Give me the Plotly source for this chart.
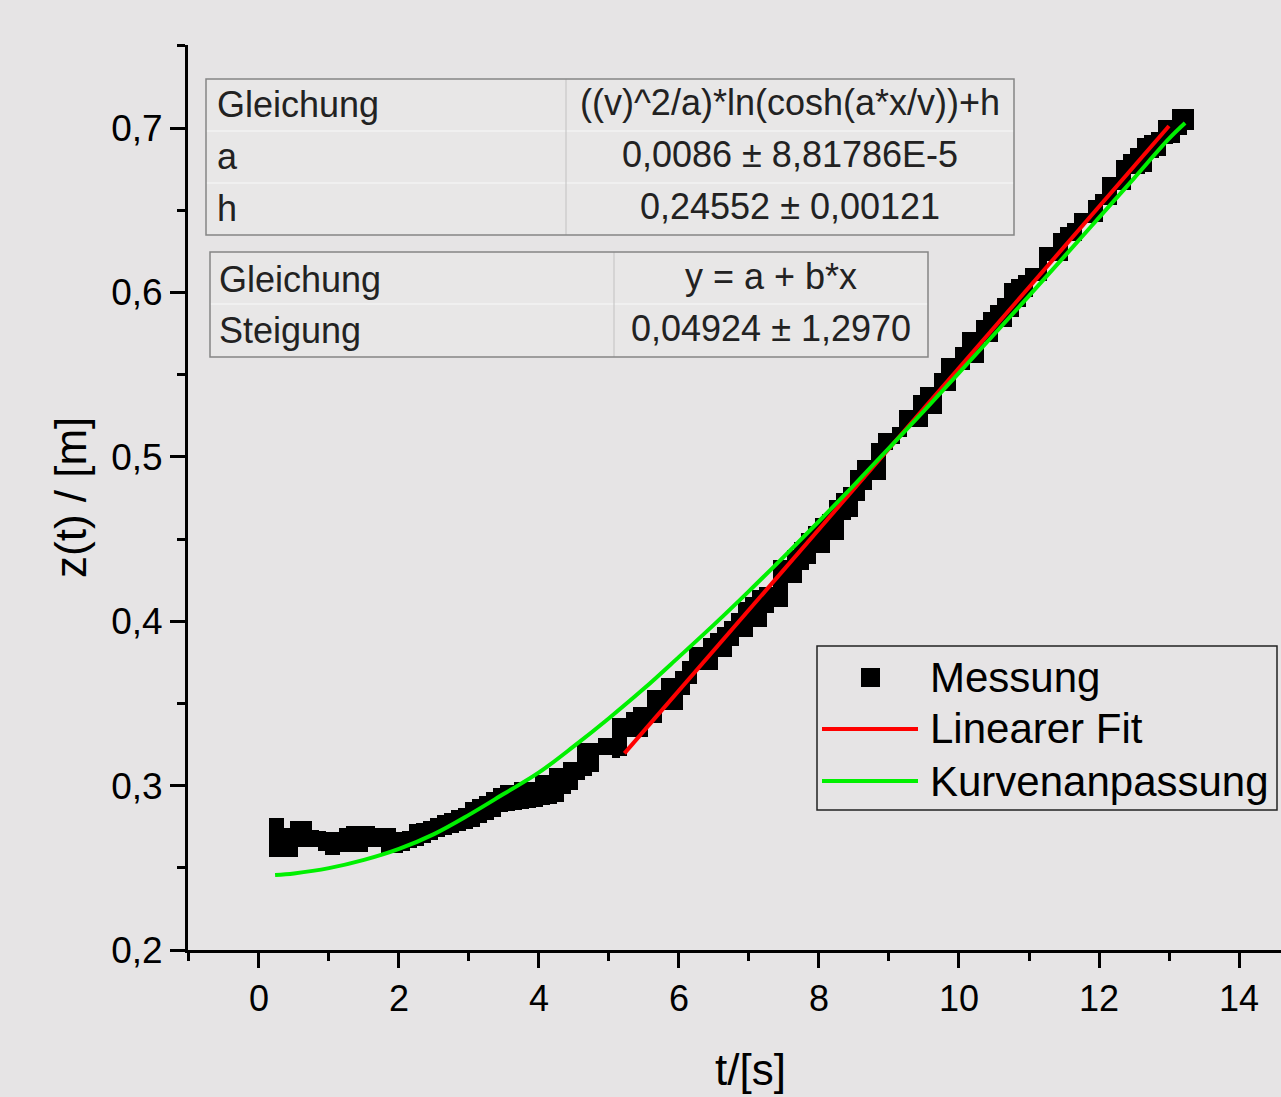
import numpy as np
import plotly.graph_objects as go

# ---------------- data ----------------
# sampling times of the measurement band [s]
t_meas = np.round(np.arange(0.2, 13.31, 0.1), 1)

# upper / lower envelope of the measured points z(t) [m]
z_upper = [
    0.2801, 0.2801, 0.2740, 0.2785, 0.2785, 0.2785, 0.2730, 0.2725, 0.2720, 0.2720,
    0.2740, 0.2756, 0.2756, 0.2756, 0.2756, 0.2740, 0.2740, 0.2740, 0.2720, 0.2725,
    0.2765, 0.2775, 0.2785, 0.2800, 0.2821, 0.2835, 0.2850, 0.2865, 0.2900, 0.2920,
    0.2937, 0.2963, 0.2984, 0.3004, 0.3004, 0.3024, 0.3024, 0.3024, 0.3064, 0.3064,
    0.3105, 0.3105, 0.3145, 0.3145, 0.3257, 0.3257, 0.3257, 0.3287, 0.3287, 0.3409,
    0.3409, 0.3450, 0.3480, 0.3480, 0.3582, 0.3582, 0.3653, 0.3653, 0.3700, 0.3760,
    0.3843, 0.3843, 0.3896, 0.3930, 0.3967, 0.4000, 0.4048, 0.4119, 0.4150, 0.4190,
    0.4210, 0.4210, 0.4372, 0.4372, 0.4433, 0.4480, 0.4535, 0.4580, 0.4626, 0.4650,
    0.4737, 0.4780, 0.4818, 0.4920, 0.4980, 0.4980, 0.5082, 0.5143, 0.5143, 0.5183,
    0.5285, 0.5285, 0.5376, 0.5426, 0.5426, 0.5508, 0.5599, 0.5599, 0.5670, 0.5761,
    0.5761, 0.5832, 0.5880, 0.5923, 0.5964, 0.6057, 0.6080, 0.6106, 0.6146, 0.6146,
    0.6278, 0.6278, 0.6359, 0.6400, 0.6420, 0.6481, 0.6481, 0.6562, 0.6600, 0.6704,
    0.6704, 0.6805, 0.6840, 0.6876, 0.6937, 0.6960, 0.6977, 0.7049, 0.7049, 0.7114,
    0.7114, 0.7114,
]
z_lower = [
    0.2568, 0.2568, 0.2568, 0.2568, 0.2628, 0.2628, 0.2628, 0.2600, 0.2578, 0.2578,
    0.2598, 0.2598, 0.2598, 0.2598, 0.2628, 0.2628, 0.2590, 0.2590, 0.2590, 0.2605,
    0.2620, 0.2635, 0.2650, 0.2669, 0.2685, 0.2700, 0.2712, 0.2725, 0.2738, 0.2750,
    0.2770, 0.2791, 0.2810, 0.2841, 0.2845, 0.2850, 0.2860, 0.2862, 0.2870, 0.2880,
    0.2890, 0.2902, 0.2950, 0.2973, 0.3034, 0.3060, 0.3085, 0.3186, 0.3186, 0.3170,
    0.3180, 0.3296, 0.3296, 0.3296, 0.3380, 0.3380, 0.3460, 0.3460, 0.3460, 0.3550,
    0.3620, 0.3703, 0.3703, 0.3703, 0.3784, 0.3784, 0.3850, 0.3906, 0.3906, 0.3967,
    0.3967, 0.4048, 0.4088, 0.4088, 0.4230, 0.4230, 0.4311, 0.4350, 0.4413, 0.4413,
    0.4494, 0.4494, 0.4616, 0.4636, 0.4730, 0.4800, 0.4860, 0.4860, 0.5040, 0.5080,
    0.5120, 0.5180, 0.5180, 0.5180, 0.5260, 0.5260, 0.5400, 0.5400, 0.5530, 0.5530,
    0.5570, 0.5570, 0.5700, 0.5700, 0.5790, 0.5790, 0.5850, 0.5910, 0.5970, 0.6070,
    0.6070, 0.6190, 0.6190, 0.6190, 0.6310, 0.6310, 0.6420, 0.6420, 0.6430, 0.6530,
    0.6530, 0.6620, 0.6620, 0.6720, 0.6720, 0.6730, 0.6820, 0.6830, 0.6900, 0.6910,
    0.6960, 0.6985,
]

# linear fit (red) end points
t_lin = [5.22, 13.0]
z_lin = [0.3196, 0.7012]

# curve fit (green) points
t_curve = [0.23, 0.5, 1.0, 1.5, 2.0, 2.5, 3.0, 3.5, 4.0, 4.5, 5.0, 5.5, 6.0, 6.5,
           7.0, 7.5, 8.0, 8.5, 9.0, 9.5, 10.0, 10.5, 11.0, 11.5, 12.0, 12.5, 13.0, 13.23]
z_curve = [0.2456, 0.2466, 0.2498, 0.2548, 0.2615, 0.2705, 0.2822, 0.2950, 0.3080, 0.3240,
           0.3410, 0.3590, 0.3783, 0.3979, 0.4183, 0.4393, 0.4608, 0.4828, 0.5053, 0.5280,
           0.5511, 0.5744, 0.5979, 0.6216, 0.6455, 0.6694, 0.6935, 0.7030]

x_ticks = [0, 2, 4, 6, 8, 10, 12, 14]
y_ticks = [0.2, 0.3, 0.4, 0.5, 0.6, 0.7]

x_title = "t/[s]"
y_title = "z(t) / [m]"
legend_names = ["Messung", "Linearer Fit", "Kurvenanpassung"]

table1 = [["Gleichung", "((v)^2/a)*ln(cosh(a*x/v))+h"],
          ["a", "0,0086 ± 8,81786E-5"],
          ["h", "0,24552 ± 0,00121"]]
table2 = [["Gleichung", "y = a + b*x"],
          ["Steigung", "0,04924 ± 1,2970"]]

# ---------------- layout geometry ----------------
W, H = 1281, 1097
L, R, T, B = 188, 0, 45, 147
PW, PH = W - L - R, H - T - B
BG = "#e6e4e5"
FONT = "Liberation Sans, Arial, sans-serif"


def px(x):
    return (x - L) / PW


def py(y):
    return (H - B - y) / PH


fig = go.Figure()

# measurement band
fig.add_trace(go.Bar(
    x=t_meas, base=z_lower, y=np.array(z_upper) - np.array(z_lower),
    width=0.106, marker=dict(color="black", line=dict(width=0)),
    name=legend_names[0], showlegend=False, hoverinfo="skip"))

fig.add_trace(go.Scatter(x=t_lin, y=z_lin, mode="lines",
                         line=dict(color="#ff0000", width=4),
                         name=legend_names[1], showlegend=False))
fig.add_trace(go.Scatter(x=t_curve, y=z_curve, mode="lines",
                         line=dict(color="#00f000", width=4, shape="spline"),
                         name=legend_names[2], showlegend=False))

shapes = []
annotations = []


def box(x0, y0, x1, y1, color, width, fill=None):
    shapes.append(dict(type="rect", xref="paper", yref="paper",
                       x0=px(x0), x1=px(x1), y0=py(y0), y1=py(y1),
                       line=dict(color=color, width=width),
                       fillcolor=fill if fill else "rgba(0,0,0,0)", layer="above"))


def hline(x0, x1, y, color, width):
    shapes.append(dict(type="line", xref="paper", yref="paper",
                       x0=px(x0), x1=px(x1), y0=py(y), y1=py(y),
                       line=dict(color=color, width=width), layer="above"))


def vline(x, y0, y1, color, width):
    shapes.append(dict(type="line", xref="paper", yref="paper",
                       x0=px(x), x1=px(x), y0=py(y0), y1=py(y1),
                       line=dict(color=color, width=width), layer="above"))


def text(x, y, s, size, anchor="left", color="#222222", angle=0):
    annotations.append(dict(xref="paper", yref="paper", x=px(x), y=py(y), text=s,
                            showarrow=False, xanchor=anchor, yanchor="middle",
                            textangle=angle,
                            font=dict(family=FONT, size=size, color=color)))


# table 1
box(206, 79, 1014, 235, "#e8e7e7", 0, fill="#e8e7e7")
hline(206, 1014, 131, "#f3f3f3", 1.5)
hline(206, 1014, 183, "#f3f3f3", 1.5)
vline(566, 79, 235, "#c8c8c8", 1.2)
box(206, 79, 1014, 235, "#858585", 1.5)
rows1 = [104, 156, 208]
for (a, b), yy in zip(table1, rows1):
    text(215, yy, a, 36)
    text(790, yy - 2, b, 36, anchor="center")

# table 2
box(210, 252, 928, 357, "#e8e7e7", 0, fill="#e8e7e7")
hline(210, 928, 304, "#f3f3f3", 1.5)
vline(614, 252, 357, "#c8c8c8", 1.2)
box(210, 252, 928, 357, "#858585", 1.5)
rows2 = [279, 330]
for (a, b), yy in zip(table2, rows2):
    text(217, yy, a, 36)
    text(771, yy - 2, b, 36, anchor="center")

# custom legend
box(817, 646, 1277, 810, "#222222", 1.5)
shapes.append(dict(type="rect", xref="paper", yref="paper",
                   x0=px(861), x1=px(880), y0=py(668), y1=py(687),
                   line=dict(width=0), fillcolor="black", layer="above"))
hline(822, 918, 729, "#ff0000", 4)
hline(822, 918, 781, "#00f000", 4)
for name, yy in zip(legend_names, [677, 729, 781]):
    text(928, yy, name, 42, color="black")

# axis titles
text(750, 1069, x_title, 44, anchor="center", color="black")
annotations.append(dict(xref="paper", yref="paper", x=px(70), y=py(498), text=y_title,
                        showarrow=False, xanchor="center", yanchor="middle", textangle=-90,
                        font=dict(family=FONT, size=44, color="black")))

fig.update_layout(
    width=W, height=H,
    margin=dict(l=L, r=R, t=T, b=B, pad=0),
    paper_bgcolor=BG, plot_bgcolor=BG,
    separators=",.",
    showlegend=False,
    bargap=0,
    shapes=shapes, annotations=annotations,
    font=dict(family=FONT, color="black"),
)

fig.update_xaxes(
    range=[-1.014, 14.6], tickvals=x_ticks, ticks="outside", ticklen=15, tickwidth=3,
    tickcolor="black", showline=True, linewidth=3, linecolor="black",
    showgrid=False, zeroline=False, automargin=False,
    tickfont=dict(family=FONT, size=36, color="black"),
    minor=dict(dtick=1, tick0=0, ticks="outside", ticklen=8, tickwidth=3, tickcolor="black"),
)
fig.update_yaxes(
    range=[0.2, 0.7505], tickvals=y_ticks, tickformat=".1f", ticks="outside", ticklen=15,
    tickwidth=3, tickcolor="black", showline=True, linewidth=3, linecolor="black",
    showgrid=False, zeroline=False, automargin=False,
    tickfont=dict(family=FONT, size=37, color="black"),
    minor=dict(dtick=0.05, tick0=0.2, ticks="outside", ticklen=8, tickwidth=3, tickcolor="black"),
)

fig.write_html("out.html", config={"displayModeBar": False},
               post_script="document.body.style.margin='0';document.body.style.overflow='hidden';")
